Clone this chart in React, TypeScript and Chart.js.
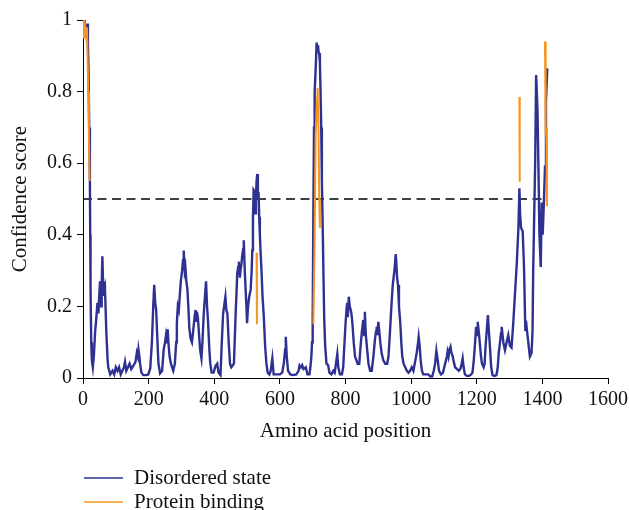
import React, { useEffect, useRef } from "react";
import { Chart, registerables } from "chart.js";

Chart.register(...registerables);

// ---- Data ----
const disorderPos = [
  1, 3, 5, 7, 9, 11, 13, 15, 17, 19, 21, 22, 23, 25, 27, 30, 33, 37, 40, 44, 47, 50, 52, 55, 57, 59, 61, 63, 67, 71, 75, 77,
  83, 90, 95, 100, 105, 110, 115, 120, 125, 128, 132, 137, 142, 147, 154, 160, 164, 167, 169, 172, 174, 178, 184, 192, 199,
  205, 210, 214, 217, 220, 223, 227, 230, 235, 241, 246, 250, 253, 256, 258, 261, 264, 268, 275, 280, 284, 286, 289, 292, 295,
  298, 302, 305, 307, 310, 312, 315, 318, 321, 324, 328, 332, 336, 340, 343, 345, 347, 350, 353, 357, 361, 364, 368, 371, 375,
  378, 381, 385, 388, 392, 398, 404, 409, 413, 419, 423, 427, 430, 434, 437, 440, 444, 448, 452, 456, 460, 463, 466, 468, 470,
  473, 475, 478, 480, 483, 485, 488, 490, 493, 495, 498, 500, 503, 507, 511, 514, 516, 518, 520, 523, 525, 527, 529, 531, 533,
  535, 537, 539, 541, 544, 547, 551, 555, 559, 563, 568, 572, 577, 581, 590, 600, 607, 612, 616, 618, 621, 625, 632, 640, 650,
  657, 660, 664, 668, 672, 679, 684, 690, 693, 696, 698, 700, 702, 704, 706, 709, 712, 714, 716, 718, 720, 722, 724, 726, 728,
  730, 733, 735, 738, 742, 747, 751, 757, 763, 767, 771, 775, 778, 783, 789, 793, 797, 800, 803, 805, 807, 810, 813, 816, 818,
  821, 825, 829, 833, 837, 842, 846, 850, 854, 857, 859, 862, 865, 870, 875, 880, 885, 890, 893, 895, 897, 900, 903, 906, 910,
  915, 921, 927, 931, 935, 938, 941, 944, 947, 950, 953, 955, 957, 960, 963, 967, 970, 973, 977, 982, 987, 992, 997, 1002, 1007,
  1013, 1017, 1020, 1023, 1026, 1029, 1033, 1037, 1043, 1052, 1059, 1064, 1069, 1073, 1077, 1081, 1085, 1091, 1097, 1101, 1105,
  1109, 1111, 1114, 1117, 1120, 1123, 1127, 1130, 1134, 1140, 1145, 1150, 1154, 1157, 1160, 1164, 1170, 1177, 1183, 1187, 1191,
  1195, 1198, 1201, 1203, 1206, 1209, 1213, 1216, 1221, 1224, 1227, 1231, 1234, 1237, 1240, 1244, 1248, 1254, 1260, 1264, 1267,
  1271, 1274, 1276, 1281, 1286, 1291, 1296, 1301, 1306, 1311, 1316, 1322, 1327, 1330, 1332, 1335, 1340, 1344, 1348, 1350, 1354,
  1357, 1362, 1367, 1370, 1372, 1375, 1378, 1381, 1385, 1388, 1391, 1395, 1398, 1401, 1405, 1408, 1411, 1415, 1418,
];
const disorderScore = [
  0.97, 0.99, 1.0, 0.96, 0.98, 0.95, 0.99, 0.93, 0.85, 0.7, 0.55, 0.4, 0.25, 0.1, 0.05, 0.03, 0.06, 0.13, 0.16, 0.21, 0.18,
  0.24, 0.27, 0.2, 0.26, 0.34, 0.27, 0.23, 0.25, 0.13, 0.05, 0.03,
  0.01, 0.02, 0.01, 0.03, 0.02, 0.03, 0.01, 0.02, 0.03, 0.045, 0.02, 0.03, 0.04, 0.025, 0.035, 0.045, 0.07, 0.06, 0.08, 0.06,
  0.04, 0.015, 0.008, 0.008, 0.01,
  0.027, 0.1, 0.2, 0.26, 0.21, 0.19, 0.1, 0.04, 0.013, 0.02, 0.08, 0.1, 0.12, 0.1, 0.136, 0.09, 0.06, 0.04, 0.02, 0.04, 0.1,
  0.153, 0.2, 0.19, 0.23,
  0.27, 0.3, 0.33, 0.356, 0.3, 0.31, 0.27, 0.25, 0.2, 0.14, 0.11, 0.1, 0.134, 0.17, 0.19, 0.16, 0.185, 0.17, 0.13, 0.078,
  0.055, 0.1, 0.18, 0.22, 0.27,
  0.2, 0.16, 0.08, 0.04, 0.015, 0.015, 0.034, 0.04, 0.015, 0.008, 0.1, 0.18, 0.2, 0.227, 0.19, 0.18, 0.1, 0.04, 0.03, 0.035,
  0.04, 0.12, 0.2, 0.24, 0.293,
  0.31, 0.325, 0.28, 0.3, 0.32, 0.34, 0.36, 0.385, 0.3, 0.26, 0.2, 0.153, 0.2, 0.23, 0.246, 0.3, 0.357, 0.45, 0.525, 0.52,
  0.46, 0.5, 0.55, 0.57, 0.5,
  0.52, 0.45, 0.4, 0.357, 0.3, 0.23, 0.171, 0.09, 0.04, 0.015, 0.01, 0.02, 0.055, 0.01, 0.01, 0.01, 0.015, 0.04, 0.08, 0.115,
  0.06, 0.02, 0.01, 0.008, 0.01,
  0.02, 0.035, 0.03, 0.036, 0.025, 0.03, 0.01, 0.01, 0.03, 0.06, 0.1, 0.17, 0.45, 0.7, 0.8, 0.86, 0.937, 0.92, 0.93, 0.91,
  0.907, 0.88, 0.8, 0.7, 0.55,
  0.45, 0.28, 0.17, 0.09, 0.04, 0.036, 0.015, 0.01, 0.02, 0.015, 0.04, 0.067, 0.03, 0.01, 0.01, 0.03, 0.1, 0.15, 0.19, 0.21,
  0.17, 0.227, 0.2, 0.19, 0.18,
  0.153, 0.1, 0.06, 0.05, 0.04, 0.04, 0.09, 0.13, 0.162, 0.12, 0.185, 0.12, 0.09, 0.04, 0.02, 0.02, 0.06, 0.11, 0.13, 0.143,
  0.12, 0.157, 0.13, 0.1, 0.07,
  0.05, 0.04, 0.04, 0.06, 0.12, 0.17, 0.218, 0.26, 0.283, 0.31, 0.346, 0.32, 0.283, 0.26, 0.2, 0.153, 0.1, 0.06, 0.04, 0.03,
  0.02, 0.015, 0.02, 0.03, 0.02,
  0.05, 0.07, 0.09, 0.115, 0.09, 0.05, 0.02, 0.01, 0.01, 0.01, 0.004, 0.004, 0.02, 0.04, 0.076, 0.05, 0.02, 0.01, 0.015,
  0.03, 0.045,
  0.06, 0.073, 0.06, 0.08, 0.0875, 0.07, 0.06, 0.045, 0.03, 0.025, 0.02, 0.025, 0.04, 0.055, 0.03, 0.01, 0.006, 0.006, 0.01,
  0.015,
  0.05, 0.1, 0.143, 0.12, 0.157, 0.13, 0.1, 0.06, 0.04, 0.03, 0.04, 0.09, 0.14, 0.176, 0.13, 0.09, 0.03, 0.008, 0.006, 0.008,
  0.03,
  0.07, 0.1, 0.125, 0.143, 0.1, 0.078, 0.1, 0.12, 0.09, 0.085, 0.15, 0.227, 0.32, 0.42, 0.53, 0.46, 0.42, 0.41, 0.31, 0.134,
  0.16,
  0.125, 0.1, 0.06, 0.07, 0.13, 0.3, 0.45, 0.6, 0.846, 0.75, 0.59, 0.4, 0.31, 0.49, 0.4, 0.5, 0.59, 0.776, 0.865,
];

const bindingPos = [
  1, 3, 6, 9, 12, 14, 16, 18, 20, 25,
  529, 530, 535,
  702, 706, 709, 715, 718, 720, 722, 727,
  1330, 1331, 1340,
  1408, 1410, 1412, 1414,
];
const bindingScore = [
  0.95, 1.0, 0.99, 0.96, 0.98, 0.9, 0.8, 0.68, 0.55, null,
  0.35, 0.15, null,
  0.15, 0.4, 0.68, 0.81, 0.68, 0.5, 0.42, null,
  0.785, 0.548, null,
  0.94, 0.68, 0.7, 0.48,
];

const thresholdValue = 0.5;
const thresholdPos = [0, 1405];

const seriesLabels = ["Disordered state", "Protein binding"];
const seriesColors = ["#2e3192", "#f7941d"];
const xTitle = "Amino acid position";
const yTitle = "Confidence score";
const xMin = 0, xMax = 1600, xStep = 200;
const yMin = 0, yMax = 1, yStep = 0.2;
const yTickLabels = ["0", "0.2", "0.4", "0.6", "0.8", "1"];

const FONT = "'Liberation Serif', 'Times New Roman', serif";

const legendPlugin = {
  id: "stackedLegend",
  afterDraw(chart: any) {
    const { ctx, chartArea } = chart;
    ctx.save();
    ctx.font = `21px ${FONT}`;
    ctx.textBaseline = "middle";
    ctx.textAlign = "left";
    seriesLabels.forEach((label, i) => {
      const y = chartArea.bottom + 100 + i * 24;
      ctx.strokeStyle = seriesColors[i];
      ctx.lineWidth = 1.5;
      ctx.beginPath();
      ctx.moveTo(chartArea.left + 1, y);
      ctx.lineTo(chartArea.left + 40, y);
      ctx.stroke();
      ctx.fillStyle = "#111";
      ctx.fillText(label, chartArea.left + 51, y);
    });
    ctx.restore();
  },
};

export default function App() {
  const canvasRef = useRef<HTMLCanvasElement | null>(null);

  useEffect(() => {
    document.body.style.margin = "0";
    const canvas = canvasRef.current;
    if (!canvas) return;
    const chart = new Chart(canvas, {
      type: "line",
      data: {
        datasets: [
          {
            label: seriesLabels[0],
            data: disorderPos.map((x, i) => ({ x, y: disorderScore[i] })),
            borderColor: seriesColors[0],
            backgroundColor: seriesColors[0],
            borderWidth: 2.4,
            pointRadius: 0,
            tension: 0,
            order: 1,
          },
          {
            label: seriesLabels[1],
            data: bindingPos.map((x, i) => ({ x, y: bindingScore[i] })),
            borderColor: seriesColors[1],
            backgroundColor: seriesColors[1],
            borderWidth: 2,
            pointRadius: 0,
            spanGaps: false,
            tension: 0,
            order: 0,
          },
          {
            label: "Threshold",
            data: thresholdPos.map((x) => ({ x, y: thresholdValue })),
            borderColor: "#000",
            borderWidth: 1.3,
            borderDash: [9, 5.5],
            pointRadius: 0,
            order: 2,
          },
        ],
      },
      options: {
        animation: false,
        responsive: true,
        maintainAspectRatio: false,
        layout: { padding: { top: 20, right: 21, bottom: 62, left: 0 } },
        plugins: {
          legend: { display: false },
          tooltip: { enabled: false },
        },
        scales: {
          x: {
            type: "linear",
            min: xMin,
            max: xMax,
            ticks: {
              stepSize: xStep,
              color: "#111",
              padding: 4,
              font: { family: FONT, size: 20 },
              maxRotation: 0,
              callback: (v: any) => String(v),
            },
            grid: {
              display: true,
              drawOnChartArea: false,
              drawTicks: true,
              tickLength: 6,
              color: "#000",
            },
            border: { display: true, color: "#000", width: 1 },
            title: {
              display: true,
              text: xTitle,
              color: "#111",
              font: { family: FONT, size: 21 },
              padding: { top: 6, bottom: 4 },
            },
            afterFit: (scale: any) => {
              scale.height = 70;
              scale.paddingLeft = 0;
              scale.paddingRight = 0;
            },
          },
          y: {
            type: "linear",
            min: yMin,
            max: yMax,
            ticks: {
              stepSize: yStep,
              color: "#111",
              padding: 5,
              font: { family: FONT, size: 20 },
              callback: (v: any, i: number) => yTickLabels[i] ?? String(v),
            },
            grid: {
              display: true,
              drawOnChartArea: false,
              drawTicks: true,
              tickLength: 6,
              color: "#000",
            },
            border: { display: true, color: "#000", width: 1 },
            title: {
              display: true,
              text: yTitle,
              color: "#111",
              font: { family: FONT, size: 21 },
              padding: { top: 8, bottom: 4 },
            },
            afterFit: (scale: any) => {
              scale.width = 83;
            },
          },
        },
      },
      plugins: [legendPlugin],
    });
    return () => chart.destroy();
  }, []);

  return (
    <div style={{ position: "relative", width: "629px", height: "510px" }}>
      <canvas ref={canvasRef} />
    </div>
  );
}
